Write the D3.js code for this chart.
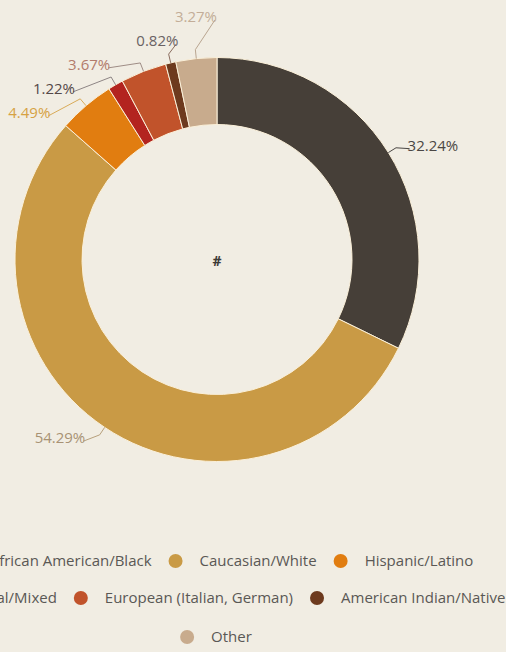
<!DOCTYPE html>
<html>
<head>
<meta charset="utf-8">
<script src="https://cdn.jsdelivr.net/npm/d3@7"></script>
<style>
  html, body { margin: 0; padding: 0; background: #f1ede3; overflow: hidden; }
  svg { display: block; font-family: "Open Sans", "Noto Sans", sans-serif; }
</style>
</head>
<body>
<svg id="chart" width="506" height="652"></svg>
<script>
// Ethnicity breakdown (percent of respondents)
const categories = [
  "African American/Black",
  "Caucasian/White",
  "Hispanic/Latino",
  "Biracial/Mixed",
  "European (Italian, German)",
  "American Indian/Native",
  "Other"
];
const shares = [32.24, 54.29, 4.49, 1.22, 3.67, 0.82, 3.27];
const sliceColors = ["#463f38", "#c99a45", "#e17d10", "#b3241f", "#c1532b", "#6d3a1e", "#c8ab8d"];
const labelColors = ["#4b4744", "#a89274", "#d6a243", "#544848", "#b27b6b", "#6a6263", "#c3ad98"];
const lineColors  = ["#4b4744", "#b7a07c", "#d9ab58", "#8e8585", "#9f8d86", "#8a6c5e", "#b9a590"];
const centerText = "#";

const W = 506, H = 652;
const cx = 217, cy = 259.5;
const outerR = 202, innerR = 135;
const naturalR = 215, labelR = 222;

const svg = d3.select("#chart");
svg.append("rect").attr("width", W).attr("height", H).attr("fill", "#f1ede3");

const data = categories.map((c, i) => ({ name: c, value: shares[i], i }));

const pie = d3.pie().value(d => d.value).sort(null);
const arcs = pie(data);
const arc = d3.arc().innerRadius(innerR).outerRadius(outerR);

const g = svg.append("g").attr("transform", `translate(${cx},${cy})`);

g.selectAll("path.slice")
  .data(arcs)
  .join("path")
  .attr("class", "slice")
  .attr("d", arc)
  .attr("fill", d => sliceColors[d.data.i])
  .attr("stroke", "#fbf0d9")
  .attr("stroke-width", 1);

// centre caption
g.append("text")
  .attr("x", 0).attr("y", 2)
  .attr("text-anchor", "middle")
  .attr("dy", "0.35em")
  .attr("font-size", 14)
  .attr("font-weight", 700)
  .attr("fill", "#3c3a36")
  .text(centerText);

// ---- data labels: natural spot on a ring, then spread each side to avoid overlap
const polar = (r, a) => [r * Math.sin(a), -r * Math.cos(a)];
const labels = arcs.map(d => {
  const mid = (d.startAngle + d.endAngle) / 2;
  const side = Math.sin(mid) >= 0 ? 1 : -1;
  return { d, mid, side, y: polar(naturalR, mid)[1] };
});

const gap = 24;
function spread(list) {
  list.sort((a, b) => a.y - b.y);
  // clusters of overlapping labels get centred on their natural mean
  const clusters = list.map(l => ({ items: [l], mean: l.y }));
  const place = c => {
    const n = c.items.length;
    const top = c.mean - (n - 1) * gap / 2;
    c.items.forEach((l, k) => l.py = top + k * gap);
  };
  clusters.forEach(place);
  let merged = true;
  while (merged) {
    merged = false;
    for (let k = 0; k < clusters.length - 1; k++) {
      const a = clusters[k], b = clusters[k + 1];
      if (b.items[0].py - a.items[a.items.length - 1].py < gap) {
        const items = a.items.concat(b.items);
        const c = { items, mean: d3.mean(items, l => l.y) };
        place(c);
        clusters.splice(k, 2, c);
        merged = true;
        break;
      }
    }
  }
}
spread(labels.filter(l => l.side < 0));
spread(labels.filter(l => l.side > 0));

const lg = g.append("g");
labels.forEach(l => {
  const y = l.py;
  const dx = Math.sqrt(Math.max(0, labelR * labelR - y * y));
  const x = l.side * dx;
  const anchorPt = polar(outerR, l.mid);
  const elbow = polar(outerR + 9, l.mid);
  const startPt = [x + l.side * 2, y + 3];
  lg.append("path")
    .attr("d", d3.line()([startPt, elbow, anchorPt]))
    .attr("fill", "none")
    .attr("stroke", lineColors[l.d.data.i])
    .attr("stroke-width", 1);
  lg.append("text")
    .attr("x", x)
    .attr("y", y)
    .attr("dy", "0.35em")
    .attr("text-anchor", l.side > 0 ? "start" : "end")
    .attr("font-size", 15)
    .attr("fill", labelColors[l.d.data.i])
    .text(d3.format(".2f")(l.d.data.value) + "%");
});

// ---- legend: rows wrapped to a fixed width and centred under the ring
const legendFont = 15;
const dotR = 7, textOff = 31, itemGap = 17, maxRow = 620;
const rowY = [561, 598, 637];
const measure = svg.append("text").attr("font-size", legendFont).attr("visibility", "hidden");
const items = categories.map((c, i) => {
  measure.text(c);
  const w = measure.node().getComputedTextLength();
  return { name: c, i, w: textOff + w };
});
measure.remove();

const rows = [];
let cur = [], curW = 0;
items.forEach(it => {
  const add = (cur.length ? itemGap : 0) + it.w;
  if (cur.length && curW + add > maxRow) {
    rows.push({ items: cur, w: curW });
    cur = [it]; curW = it.w;
  } else {
    cur.push(it); curW += add;
  }
});
if (cur.length) rows.push({ items: cur, w: curW });

const leg = svg.append("g");
rows.forEach((row, r) => {
  let x = cx - 1 - row.w / 2;
  const y = rowY[r];
  row.items.forEach(it => {
    leg.append("circle")
      .attr("cx", x + dotR).attr("cy", y)
      .attr("r", dotR)
      .attr("fill", sliceColors[it.i]);
    leg.append("text")
      .attr("x", x + textOff).attr("y", y)
      .attr("dy", "0.35em")
      .attr("font-size", legendFont)
      .attr("fill", "#5a5855")
      .text(it.name);
    x += it.w + itemGap;
  });
});
</script>
</body>
</html>
